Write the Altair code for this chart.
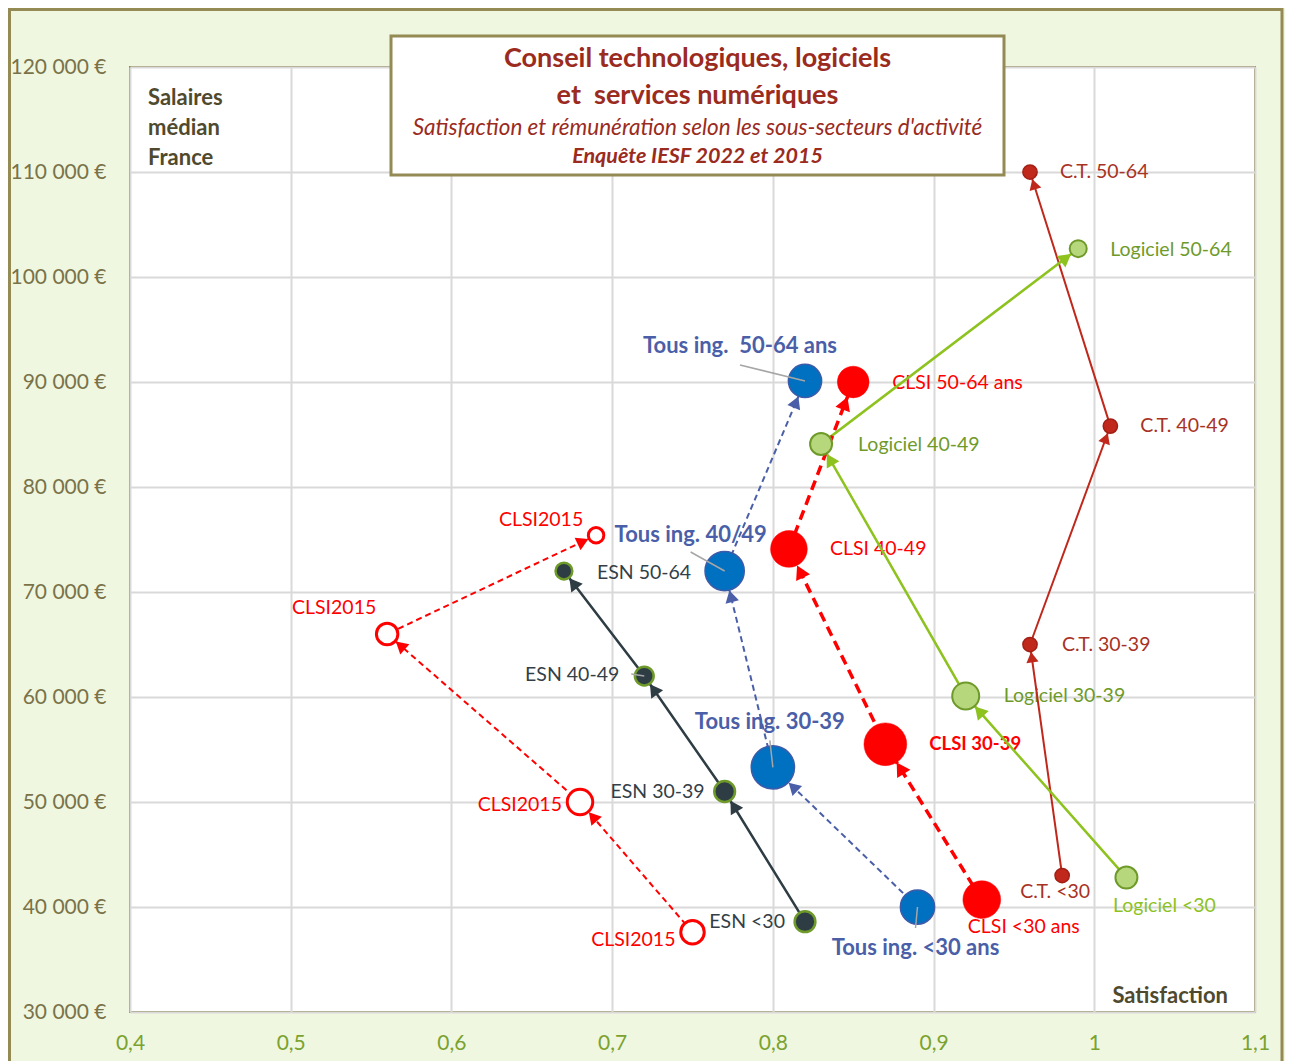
import math
import altair as alt
import pandas as pd

# ---------------- data ----------------
ages = ["<30", "30-39", "40-49", "50-64"]

ct_x = [0.98, 0.96, 1.01, 0.96]
ct_y = [43000, 65000, 85800, 110000]
log_x = [1.02, 0.92, 0.83, 0.99]
log_y = [42800, 60100, 84100, 102700]
esn_x = [0.82, 0.77, 0.72, 0.67]
esn_y = [38600, 51000, 62000, 72000]
tous_x = [0.89, 0.80, 0.77, 0.82]
tous_y = [40000, 53300, 72000, 90100]
clsi_x = [0.93, 0.87, 0.81, 0.85]
clsi_y = [40700, 55500, 74100, 90000]
c15_x = [0.75, 0.68, 0.56, 0.69]
c15_y = [37600, 50000, 66000, 75400]

# bubble weights (rendered diameter in px)
ct_b = [15, 15, 15, 15]
log_b = [23, 28, 23, 18]
esn_b = [22, 22, 20, 18]
tous_b = [35, 44, 40, 34]
clsi_b = [38, 43, 37, 32]
c15_b = [25, 27, 23, 17]

NB = "\u00a0"
ct_lab = ["C.T. <30", "C.T. 30-39", "C.T. 40-49", "C.T. 50-64"]
log_lab = ["Logiciel <30", "Logiciel 30-39", "Logiciel 40-49", "Logiciel 50-64"]
esn_lab = ["ESN <30", "ESN 30-39", "ESN 40-49", "ESN 50-64"]
tous_lab = ["Tous ing. <30 ans", "Tous ing. 30-39", "Tous ing. 40/49", "Tous ing." + NB + " 50-64 ans"]
clsi_lab = ["CLSI <30 ans", "CLSI 30-39", "CLSI 40-49", "CLSI 50-64 ans"]
c15_lab = ["CLSI2015", "CLSI2015", "CLSI2015", "CLSI2015"]

x_ticks = [0.4, 0.5, 0.6, 0.7, 0.8, 0.9, 1.0, 1.1]
y_ticks = [30000, 40000, 50000, 60000, 70000, 80000, 90000, 100000, 110000, 120000]

title_l1 = "Conseil technologiques, logiciels"
title_l2 = "et" + NB + " services numériques"
title_l3 = "Satisfaction et rémunération selon les sous-secteurs d'activité"
title_l4 = "Enquête IESF 2022 et 2015"

# ---------------- layout / style ----------------
W, H = 1125, 945
XD = [0.4, 1.1]
YD = [30000, 120000]
kx = W / (XD[1] - XD[0])
ky = H / (YD[1] - YD[0])
FONT = "Lato"

series = {
    "ct": dict(x=ct_x, y=ct_y, b=ct_b, lab=ct_lab, fill="#C0281C", stroke="#A11F14", sw=1.5,
               line="#C0281C", lw=2, dash=None, arrow=150, lcol="#A83224"),
    "log": dict(x=log_x, y=log_y, b=log_b, lab=log_lab, fill="#B7D77C", stroke="#6E9A2A", sw=2,
                line="#8DC21F", lw=2.5, dash=None, arrow=210, lcol="#6E9A2A"),
    "esn": dict(x=esn_x, y=esn_y, b=esn_b, lab=esn_lab, fill="#2E3C44", stroke="#6E9A2A", sw=2.5,
                line="#2E3C44", lw=2.5, dash=None, arrow=210, lcol="#333F48"),
    "tous": dict(x=tous_x, y=tous_y, b=tous_b, lab=tous_lab, fill="#0070C0", stroke="#3E5BA9", sw=1.5,
                 line="#4A5FA8", lw=2, dash=[6, 4], arrow=190, lcol="#4A5FA8"),
    "clsi": dict(x=clsi_x, y=clsi_y, b=clsi_b, lab=clsi_lab, fill="#FF0000", stroke="#FF0000", sw=0.5,
                 line="#FF0000", lw=3.5, dash=[10, 6], arrow=240, lcol="#FF0000"),
    "c15": dict(x=c15_x, y=c15_y, b=c15_b, lab=c15_lab, fill="#FFFFFF", stroke="#FF0000", sw=3,
                line="#FF0000", lw=2, dash=[6, 4], arrow=190, lcol="#FF0000"),
}

LF = 19.5
# label offsets in px: (dx, dy, align, weight, size)
label_layout = {
    "ct": [(-7, 16, "center", "normal", LF), (32, 0, "left", "normal", LF),
           (30, 0, "left", "normal", LF), (30, 0, "left", "normal", LF)],
    "log": [(38, 28, "center", "normal", LF), (38, 0, "left", "normal", LF),
            (37, 1, "left", "normal", LF), (32, 1, "left", "normal", LF)],
    "esn": [(-20, 0, "right", "normal", LF), (-20, 0, "right", "normal", LF),
            (-25, -1, "right", "normal", LF), (33, 2, "left", "normal", LF)],
    "tous": [(-2, 41, "center", "bold", 22), (-3, -45, "center", "bold", 22),
             (-34, -36, "center", "bold", 22), (-65, -35, "center", "bold", 22)],
    "clsi": [(42, 27, "center", "normal", LF), (44, 0, "left", "bold", 18.5),
             (41, 0, "left", "normal", LF), (39, 1, "left", "normal", LF)],
    "c15": [(-17, 8, "right", "normal", LF), (-18, 3, "right", "normal", LF),
            (-53, -26, "center", "normal", LF), (-55, -15, "center", "normal", LF)],
}
label_color_override = {("log", 0): "#8DC21F"}

# leader lines (px offsets from point): (series, index, x0, y0, x1, y1)
leaders = [("tous", 3, -65, -16, 0, 0), ("tous", 2, -34, -19, 0, 0),
           ("tous", 1, -3, -27, 0, 0), ("tous", 0, 0, 0, -2, 21),
           ("esn", 2, -13, -2, 0, 0)]

# ---------------- tables ----------------
pts, arrows, labs, lead = [], [], [], []
for key, s in series.items():
    for i in range(4):
        pts.append(dict(series=key, idx=i, age=ages[i], x=s["x"][i], y=s["y"][i],
                        size=(s["b"][i] - s["sw"] / 2) ** 2))
        dx, dy, al, wt, fs = label_layout[key][i]
        labs.append(dict(series=key, text=s["lab"][i], lx=s["x"][i] + dx / kx, ly=s["y"][i] - dy / ky,
                         align=al, weight=wt, fs=fs,
                         color=label_color_override.get((key, i), s["lcol"])))
    for i in range(3):
        x1, y1, x2, y2 = s["x"][i], s["y"][i], s["x"][i + 1], s["y"][i + 1]
        dxp = (x2 - x1) * kx
        dyp = -(y2 - y1) * ky
        n = math.hypot(dxp, dyp)
        ux, uy = dxp / n, dyp / n
        h = math.sqrt(3) / 4 * math.sqrt(s["arrow"])
        dist = s["b"][i + 1] / 2 + h
        ax = x2 - ux * dist / kx
        ay = y2 + uy * dist / ky
        ang = math.degrees(math.atan2(ux, -uy)) % 360
        arrows.append(dict(series=key, x=ax, y=ay, angle=ang, color=s["line"], size=s["arrow"]))

for key, i, a0, b0, a1, b1 in leaders:
    s = series[key]
    lead.append(dict(x=s["x"][i] + a0 / kx, y=s["y"][i] - b0 / ky,
                     x2=s["x"][i] + a1 / kx, y2=s["y"][i] - b1 / ky))

pts_df = pd.DataFrame(pts)
arr_df = pd.DataFrame(arrows)
lab_df = pd.DataFrame(labs)
lead_df = pd.DataFrame(lead)

# ---------------- encodings ----------------
xaxis = alt.Axis(values=x_ticks, labelExpr="replace(format(datum.value, '.1~f'), '.', ',')",
                 title=None, grid=True, gridColor="#D9D9D9", gridWidth=2, domain=False, ticks=False,
                 labelFlush=False, labelPadding=20, labelFontSize=21, labelColor="#7BA22E", labelFont=FONT)
yaxis = alt.Axis(values=y_ticks, labelExpr="replace(format(datum.value, ','), ',', ' ') + ' €'",
                 title=None, grid=True, gridColor="#D9D9D9", gridWidth=2, domain=False, ticks=False,
                 labelFlush=False, labelPadding=24, labelFontSize=21, labelColor="#7A7248", labelFont=FONT)
xscale = alt.Scale(domain=XD, nice=False, zero=False)
yscale = alt.Scale(domain=YD, nice=False, zero=False)


def X(f="x"):
    return alt.X(f"{f}:Q", scale=xscale, axis=xaxis)


def Y(f="y"):
    return alt.Y(f"{f}:Q", scale=yscale, axis=yaxis)


layers = []

# outer border
dummy = pd.DataFrame({"a": [0]})
layers.append(alt.Chart(dummy).mark_rect(filled=False, stroke="#948A54", strokeWidth=3).encode(
    x=alt.value(-120.5), x2=alt.value(1152), y=alt.value(-57.5), y2=alt.value(1010)))

# data labels (under lines)
for (al, wt, fs), g in lab_df.groupby(["align", "weight", "fs"]):
    layers.append(alt.Chart(g).mark_text(align=al, baseline="middle", fontWeight=wt, fontSize=float(fs),
                                         font=FONT).encode(
        x=X("lx"), y=Y("ly"), text="text:N", color=alt.Color("color:N", scale=None)))

# lines
for key, s in series.items():
    d = pts_df[pts_df.series == key]
    kw = dict(color=s["line"], strokeWidth=s["lw"])
    if s["dash"]:
        kw["strokeDash"] = s["dash"]
    layers.append(alt.Chart(d).mark_line(**kw).encode(x=X(), y=Y(), order="idx:Q"))

# arrowheads
layers.append(alt.Chart(arr_df).mark_point(shape="triangle-up", filled=True, opacity=1).encode(
    x=X(), y=Y(), angle=alt.Angle("angle:Q", scale=None),
    size=alt.Size("size:Q", scale=None), color=alt.Color("color:N", scale=None)))

# markers
for key, s in series.items():
    d = pts_df[pts_df.series == key]
    layers.append(alt.Chart(d).mark_circle(opacity=1, fill=s["fill"], stroke=s["stroke"],
                                           strokeWidth=s["sw"]).encode(
        x=X(), y=Y(), size=alt.Size("size:Q", scale=None)))

# leader lines
layers.append(alt.Chart(lead_df).mark_rule(color="#A6A6A6", strokeWidth=1.5).encode(
    x=X(), y=Y(), x2="x2:Q", y2="y2:Q"))

# title box
layers.append(alt.Chart(dummy).mark_rect(fill="white", stroke="#948A54", strokeWidth=3).encode(
    x=alt.value(261), x2=alt.value(874), y=alt.value(-31), y2=alt.value(108)))
TC = "#9A2B1E"
for txt, yy, fs, wt, st in [(title_l1, -8, 27, "bold", "normal"), (title_l2, 29, 27, "bold", "normal"),
                            (title_l3, 61, 22.5, "normal", "italic"), (title_l4, 90, 21.5, "bold", "italic")]:
    layers.append(alt.Chart(pd.DataFrame({"t": [txt]})).mark_text(
        align="center", baseline="middle", fontSize=fs, fontWeight=wt, fontStyle=st, font=FONT, color=TC
    ).encode(x=alt.value(567.5), y=alt.value(yy), text="t:N"))

# axis captions
layers.append(alt.Chart(pd.DataFrame({"t": ["Salaires\nmédian\nFrance"]})).mark_text(
    align="left", baseline="top", fontSize=22, fontWeight="bold", font=FONT, color="#4F4A2E",
    lineBreak="\n", lineHeight=30).encode(x=alt.value(18), y=alt.value(21), text="t:N"))
layers.append(alt.Chart(pd.DataFrame({"t": ["Satisfaction"]})).mark_text(
    align="right", baseline="middle", fontSize=22, fontWeight="bold", font=FONT, color="#4F4A2E"
).encode(x=alt.value(1098), y=alt.value(929), text="t:N"))

chart = alt.layer(*layers).properties(
    width=W, height=H,
    background="#EFF7E1",
    padding={"left": 122, "top": 59, "right": 30, "bottom": 49},
    autosize=alt.AutoSizeParams(type="none"),
).configure_view(fill="white", stroke="#948A54", strokeWidth=2)

chart.save("out.html", embed_options={"renderer": "svg", "actions": False})
